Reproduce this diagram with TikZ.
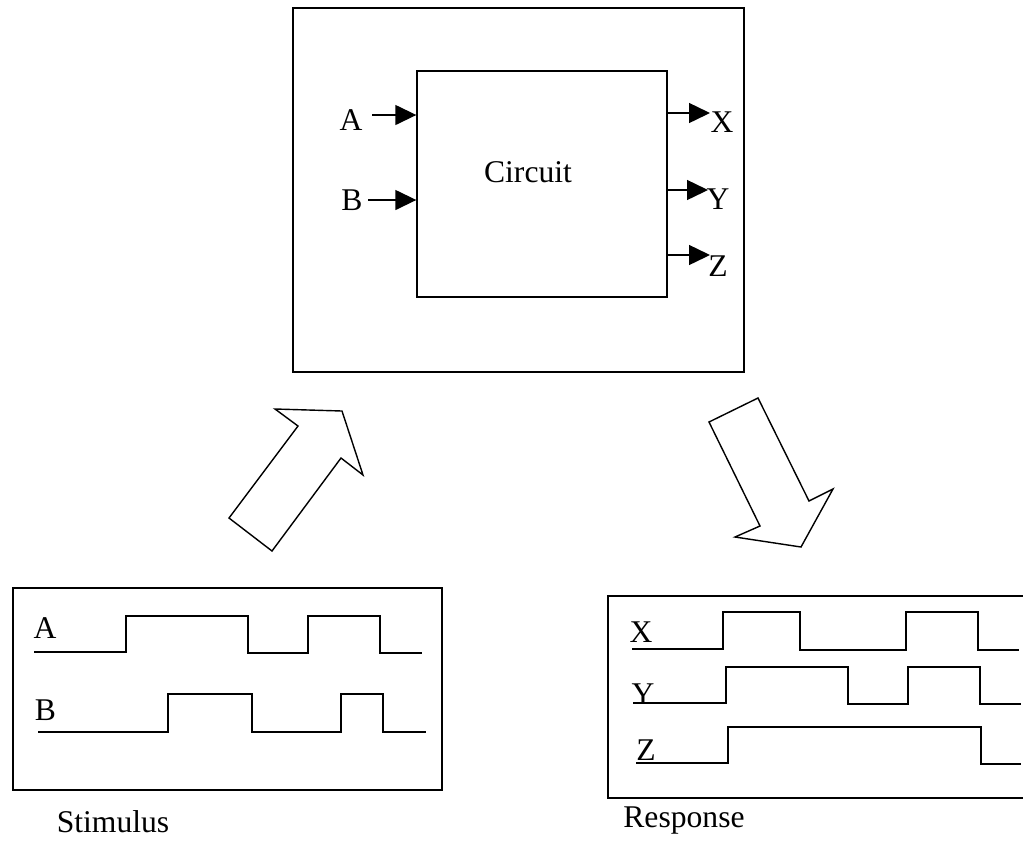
\documentclass[tikz,border=0pt]{standalone}
\usepackage{fontspec}
\setmainfont{Liberation Serif}
\usetikzlibrary{arrows.meta}
\begin{document}
\begin{tikzpicture}[
  x=0.02cm, y=-0.02cm,
  box/.style={draw, line width=0.8pt, inner sep=0pt},
  lbl/.style={inner sep=0pt, font=\fontsize{18}{20}\selectfont},
  pin/.style={draw, line width=0.8pt, -{Triangle[length=0.42cm,width=0.4cm]}},
  wave/.style={draw, line width=0.8pt},
  fatarrow/.style={draw, line width=0.8pt, line join=miter}
]
\useasboundingbox (0,0) rectangle (1023,863);
% circuit under test
\node[box, minimum width=9.02cm, minimum height=7.28cm] (testbench) at (518.5,190) {};
\node[box, minimum width=5cm, minimum height=4.52cm] (circuit) at (542,184) {};
\node[lbl] (circuitlbl) at (528,172) {Circuit};
\node[lbl] (inA) at (351,120.5) {A};
\node[lbl] (inB) at (352,200) {B};
\node[lbl] (outX) at (722,122.5) {X};
\node[lbl] (outY) at (718,199) {Y};
\node[lbl] (outZ) at (718,266.5) {Z};
\coordinate (a1) at (372,115);
\coordinate (b1) at (368,200);
\coordinate (x1) at (710,113);
\coordinate (y1) at (708,190);
\coordinate (z1) at (710,255);
\draw[pin] (a1) -- (a1 -| circuit.west);
\draw[pin] (b1) -- (b1 -| circuit.west);
\draw[pin] (x1 -| circuit.east) -- (x1);
\draw[pin] (y1 -| circuit.east) -- (y1);
\draw[pin] (z1 -| circuit.east) -- (z1);
% big arrows
\draw[fatarrow] (275,409) -- (342,411) -- (363,475) -- (341,458) -- (272,551) -- (229,518) -- (298,426) -- cycle;
\draw[fatarrow] (709,422) -- (758,398) -- (809,501) -- (833,489) -- (801,547) -- (735,537) -- (760,526) -- cycle;
% stimulus
\draw[box] (13,588) rectangle (442,790);
\node[lbl] (stimA) at (45,628) {A};
\node[lbl] (stimB) at (45.5,710) {B};
\draw[wave] (34,652) -- (126,652) |- (248,616) |- (308,653) |- (380,616) |- (422,653);
\draw[wave] (38,732) -- (168,732) |- (252,694) |- (341,732) |- (383,694) |- (426,732);
\node[lbl] (stimulus) at (113,822) {Stimulus};
% response
\draw[box] (608,596) rectangle (1030,798);
\node[lbl] (respX) at (641,632) {X};
\node[lbl] (respY) at (643,694) {Y};
\node[lbl] (respZ) at (646,750) {Z};
\draw[wave] (632,649) -- (723,649) |- (800,612) |- (906,650) |- (978,612) |- (1019,650);
\draw[wave] (633,703) -- (726,703) |- (848,667) |- (908,704) |- (980,667) |- (1021,704);
\draw[wave] (636,763) -- (728,763) |- (981,727) |- (1021,764);
\node[lbl] (response) at (684,820) {Response};
\end{tikzpicture}
\end{document}
